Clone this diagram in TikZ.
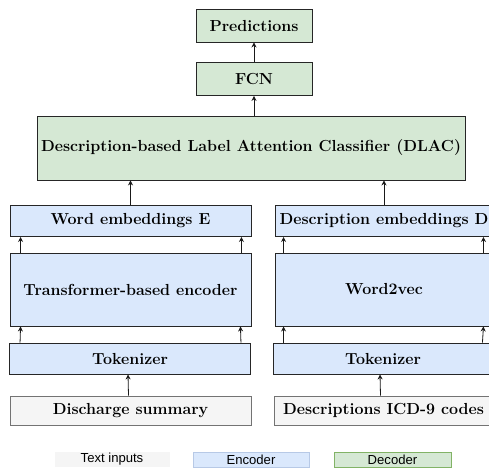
\documentclass[tikz,border=0pt]{standalone}
\usepackage{fontspec}
\newfontfamily\legendfont{Liberation Sans}
\usetikzlibrary{arrows.meta}
\definecolor{encfill}{HTML}{DAE8FC}
\definecolor{decfill}{HTML}{D5E8D4}
\definecolor{inpfill}{HTML}{F5F5F5}
\definecolor{decline}{HTML}{82B366}
\definecolor{encline}{HTML}{B7C9E6}
\tikzset{
box/.style={draw=black!85, line width=0.9pt, inner sep=0pt, font=\fontsize{16}{18}\selectfont\bfseries},
encbox/.style={box, fill=encfill},
decbox/.style={box, fill=decfill},
inpbox/.style={box, fill=inpfill, draw=black!55},
legbox/.style={inner sep=0pt, minimum height=15pt, font=\legendfont\fontsize{13.1}{15}\selectfont},
arr/.style={-{Stealth[length=5pt,width=5pt]}, line width=0.8pt, black!90}
}
\begin{document}
\begin{tikzpicture}[x=1pt,y=-1pt]
\clip (0,0) rectangle (489,468);
\fill[white] (0,0) rectangle (489,468);

\node[decbox, minimum width=116pt, minimum height=33pt] (pred) at (254,25.5) {Predictions};
\node[decbox, minimum width=116pt, minimum height=33pt] (fcn) at (254,79) {FCN};
\node[decbox, minimum width=428pt, minimum height=64pt] (dlac) at (251,148) {Description-based Label Attention Classifier (DLAC)};

\node[encbox, minimum width=241pt, minimum height=31pt] (wemb) at (130.5,221) {Word embeddings E};
\node[encbox, minimum width=241pt, minimum height=73pt] (tenc) at (130.5,289.5) {Transformer-based encoder};
\node[encbox, minimum width=241pt, minimum height=31pt] (tokl) at (130,358.5) {Tokenizer};
\node[inpbox, minimum width=241pt, minimum height=29pt] (dsum) at (130.5,410.5) {Discharge summary};

\node[encbox, minimum width=218pt, minimum height=31pt] (demb) at (384,221) {Description embeddings D};
\node[encbox, minimum width=218pt, minimum height=73pt] (wvec) at (384,289.5) {Word2vec};
\node[encbox, minimum width=220pt, minimum height=31pt] (tokr) at (383,358.5) {Tokenizer};
\node[inpbox, minimum width=219pt, minimum height=29pt] (icd) at (383.5,410.5) {Descriptions ICD-9 codes};

\draw[arr] (fcn.north) -- (pred.south);
\draw[arr] (dlac.north -| fcn.south) -- (fcn.south);
\draw[arr] (wemb.north) -- (wemb.north |- dlac.south);
\draw[arr] (demb.north) -- (demb.north |- dlac.south);

\draw[arr] ([xshift=11pt]tenc.north west) -- ([xshift=11pt]wemb.south west);
\draw[arr] ([xshift=-10pt]tenc.north east) -- ([xshift=-10pt]wemb.south east);
\draw[arr] ([xshift=11pt]tokl.north west) -- ([xshift=11pt]tenc.south west);
\draw[arr] ([xshift=-10pt]tokl.north east) -- ([xshift=-11pt]tenc.south east);
\draw[arr] ([xshift=-2pt]dsum.north) -- ([xshift=-2pt]tokl.south);

\draw[arr] ([xshift=9pt]wvec.north west) -- ([xshift=9pt]demb.south west);
\draw[arr] ([xshift=-10pt]wvec.north east) -- ([xshift=-10pt]demb.south east);
\draw[arr] ([xshift=11pt]tokr.north west) -- ([xshift=9pt]wvec.south west);
\draw[arr] ([xshift=-11pt]tokr.north east) -- ([xshift=-10pt]wvec.south east);
\draw[arr] ([xshift=-3pt]icd.north) -- ([xshift=-3pt]tokr.south);

\node[legbox, fill=inpfill, minimum width=115pt] (lginp) at (112,459.5) {Text inputs};
\node[legbox, fill=encfill, draw=encline, minimum width=116pt] (lgenc) at (251,459.5) {Encoder};
\node[legbox, fill=decfill, draw=decline, minimum width=117pt] (lgdec) at (392.5,459.5) {Decoder};
\end{tikzpicture}
\end{document}
